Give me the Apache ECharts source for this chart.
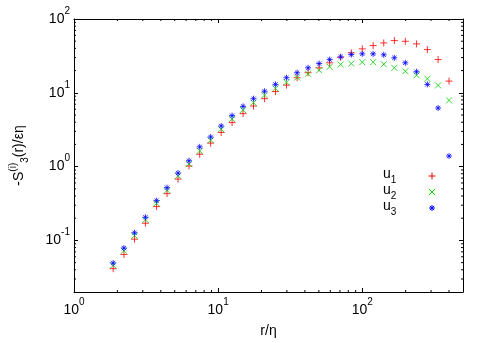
<!DOCTYPE html>
<html lang="en">
<head>
    <meta charset="UTF-8">
    <title></title>
    <script type="text/javascript" src="https://cdn.jsdelivr.net/npm/echarts@6/dist/echarts.min.js"></script>
    <style>
        html, body { margin: 0; padding: 0; background: #fff; }
    </style>
</head>
<body>
<div id="main" style="width: 491px;height: 343px"></div>
<script type="text/javascript">
    // r/eta sample positions
    var rEta = [1.87, 2.22, 2.63, 3.13, 3.74, 4.42, 5.27, 6.28, 7.45, 8.87, 10.5, 12.5, 14.9, 17.6, 21.0, 25.0,
        29.8, 35.3, 42.1, 50.2, 59.4, 70.8, 83.9, 100, 119, 141, 167, 199, 238, 283, 336, 400];
    var u1 = [0.0414, 0.0645, 0.104, 0.171, 0.287, 0.430, 0.678, 1.02, 1.47, 2.08, 2.90, 3.95, 5.22, 6.62, 8.32, 10.4,
        12.7, 16.0, 18.7, 21.8, 25.5, 30.3, 34.8, 39.4, 43.6, 47.4, 51.0, 49.9, 46.0, 38.5, 28.2, 14.4];
    var u2 = [0.0458, 0.0724, 0.116, 0.190, 0.318, 0.477, 0.751, 1.08, 1.63, 2.28, 3.21, 4.42, 5.84, 7.35, 9.31, 11.5,
        13.9, 16.1, 18.1, 20.2, 22.5, 24.2, 24.9, 26.0, 26.0, 24.4, 21.8, 19.6, 17.3, 15.5, 12.6, 7.89];
    var u3 = [0.0494, 0.0787, 0.127, 0.206, 0.346, 0.518, 0.817, 1.20, 1.85, 2.52, 3.55, 4.91, 6.55, 8.32, 10.5, 13.0,
        16.0, 18.7, 21.8, 24.9, 28.2, 30.7, 33.0, 33.7, 33.7, 32.7, 29.8, 25.5, 19.3, 13.0, 6.22, 1.39];
    var seriesNames = ['u1', 'u2', 'u3'];
    var xMinorTicks = [2, 3, 4, 5, 6, 7, 8, 9, 20, 30, 40, 50, 60, 70, 80, 90, 200, 300, 400];
    var yMinorTicks = [0.03, 0.04, 0.05, 0.06, 0.07, 0.08, 0.09, 0.2, 0.3, 0.4, 0.5, 0.6, 0.7, 0.8, 0.9,
        2, 3, 4, 5, 6, 7, 8, 9, 20, 30, 40, 50, 60, 70, 80, 90];

    var FONT = 'Liberation Sans';
    var colors = ['#ff0000', '#00d000', '#0000ff'];
    var symbols = [
        'path://M0 5L10 5M5 0L5 10',
        'path://M0 0L10 10M0 10L10 0',
        'path://M0 5L10 5M5 0L5 10M1.5 1.5L8.5 8.5M1.5 8.5L8.5 1.5'
    ];
    var symbolSizes = [7, 6, 6];

    function pow10Label(v) {
        var e = Math.log(v) / Math.LN10;
        if (Math.abs(e - Math.round(e)) > 1e-6) return '';
        return '{b|10}{s|' + Math.round(e) + '}';
    }
    var labelRich = {
        b: {fontFamily: FONT, fontSize: 14, color: '#000', lineHeight: 26},
        s: {fontFamily: FONT, fontSize: 10, color: '#000', verticalAlign: 'top', lineHeight: 12}
    };

    function pairs(ys) {
        return rEta.map(function (x, i) { return [x, ys[i]]; });
    }

    var myChart = echarts.init(document.getElementById('main'), null, {renderer: 'canvas'});

    var axisLine = {show: true, lineStyle: {color: '#000', width: 1}};
    var tick = {show: true, inside: true, length: 4, lineStyle: {color: '#000'}};

    var series = [0, 1, 2].map(function (k) {
        return {
            name: seriesNames[k],
            type: 'scatter',
            data: pairs([u1, u2, u3][k]),
            symbol: symbols[k],
            symbolSize: symbolSizes[k],
            itemStyle: {color: colors[k], borderColor: colors[k], borderWidth: 1},
            emphasis: {disabled: true},
            z: 3 + k
        };
    });

    // minor ticks on all four sides, placed through the log axes
    series.push({
        type: 'custom',
        silent: true,
        data: xMinorTicks.map(function (v) { return [v, 1]; }),
        renderItem: function (params, api) {
            var cs = params.coordSys;
            var x = api.coord([api.value(0), 1])[0];
            return {
                type: 'group',
                children: [
                    {type: 'line', shape: {x1: x, y1: cs.y + cs.height, x2: x, y2: cs.y + cs.height - 2},
                        style: {stroke: '#000', lineWidth: 1}},
                    {type: 'line', shape: {x1: x, y1: cs.y, x2: x, y2: cs.y + 2},
                        style: {stroke: '#000', lineWidth: 1}}
                ]
            };
        },
        z: 1
    });
    series.push({
        type: 'custom',
        silent: true,
        data: yMinorTicks.map(function (v) { return [10, v]; }),
        renderItem: function (params, api) {
            var cs = params.coordSys;
            var y = api.coord([10, api.value(1)])[1];
            return {
                type: 'group',
                children: [
                    {type: 'line', shape: {x1: cs.x, y1: y, x2: cs.x + 2, y2: y},
                        style: {stroke: '#000', lineWidth: 1}},
                    {type: 'line', shape: {x1: cs.x + cs.width, y1: y, x2: cs.x + cs.width - 2, y2: y},
                        style: {stroke: '#000', lineWidth: 1}}
                ]
            };
        },
        z: 1
    });

    var legendRich = {
        b: {fontFamily: FONT, fontSize: 14, color: '#000', lineHeight: 22},
        s: {fontFamily: FONT, fontSize: 10, color: '#000', verticalAlign: 'bottom', lineHeight: 12}
    };
    var graphics = [];
    var legendMarks = [
        [[-3.5, 0, 3.5, 0], [0, -3.5, 0, 3.5]],
        [[-3, -3, 3, 3], [-3, 3, 3, -3]],
        [[-3, 0, 3, 0], [0, -3, 0, 3], [-2.1, -2.1, 2.1, 2.1], [-2.1, 2.1, 2.1, -2.1]]
    ];
    for (var k = 0; k < 3; k++) {
        var cy = 176 + k * 16;
        graphics.push({
            type: 'text', left: 383, top: cy - 9,
            style: {text: '{b|u}{s|' + (k + 1) + '}', rich: legendRich}
        });
        graphics.push({
            type: 'group', x: 432, y: cy,
            children: legendMarks[k].map(function (m) {
                return {type: 'line', shape: {x1: m[0], y1: m[1], x2: m[2], y2: m[3]},
                    style: {stroke: colors[k], lineWidth: 1}};
            })
        });
    }

    var option = {
        animation: false,
        backgroundColor: '#fff',
        grid: {left: 73, top: 19, right: 28, bottom: 50},
        xAxis: [{
            type: 'log', min: 1, max: 500,
            axisLine: axisLine, axisTick: tick, splitLine: {show: false},
            axisLabel: {formatter: pow10Label, margin: 5, rich: labelRich},
            name: 'r/η', nameLocation: 'middle', nameGap: 32,
            nameTextStyle: {fontFamily: FONT, fontSize: 14, color: '#000'}
        }, {
            type: 'log', min: 1, max: 500, position: 'top',
            axisLine: axisLine, axisTick: tick, splitLine: {show: false}, axisLabel: {show: false}
        }],
        yAxis: [{
            type: 'log', min: 0.02, max: 100,
            axisLine: axisLine, axisTick: tick, splitLine: {show: false},
            axisLabel: {formatter: pow10Label, margin: 4, rich: labelRich},
            name: '{t|-S}{sp|(i)}{sb|3}{t|(r)/εη}', nameLocation: 'middle', nameGap: 44, nameRotate: 90,
            nameTextStyle: {
                rich: {
                    t: {fontFamily: FONT, fontSize: 14, color: '#000', lineHeight: 22},
                    sp: {fontFamily: FONT, fontSize: 10, color: '#000', verticalAlign: 'top', lineHeight: 12},
                    sb: {fontFamily: FONT, fontSize: 10, color: '#000', verticalAlign: 'bottom', lineHeight: 12}
                }
            }
        }, {
            type: 'log', min: 0.02, max: 100, position: 'right',
            axisLine: axisLine, axisTick: tick, splitLine: {show: false}, axisLabel: {show: false}
        }],
        graphic: graphics,
        series: series
    };
    myChart.setOption(option);
</script>
</body>
</html>
